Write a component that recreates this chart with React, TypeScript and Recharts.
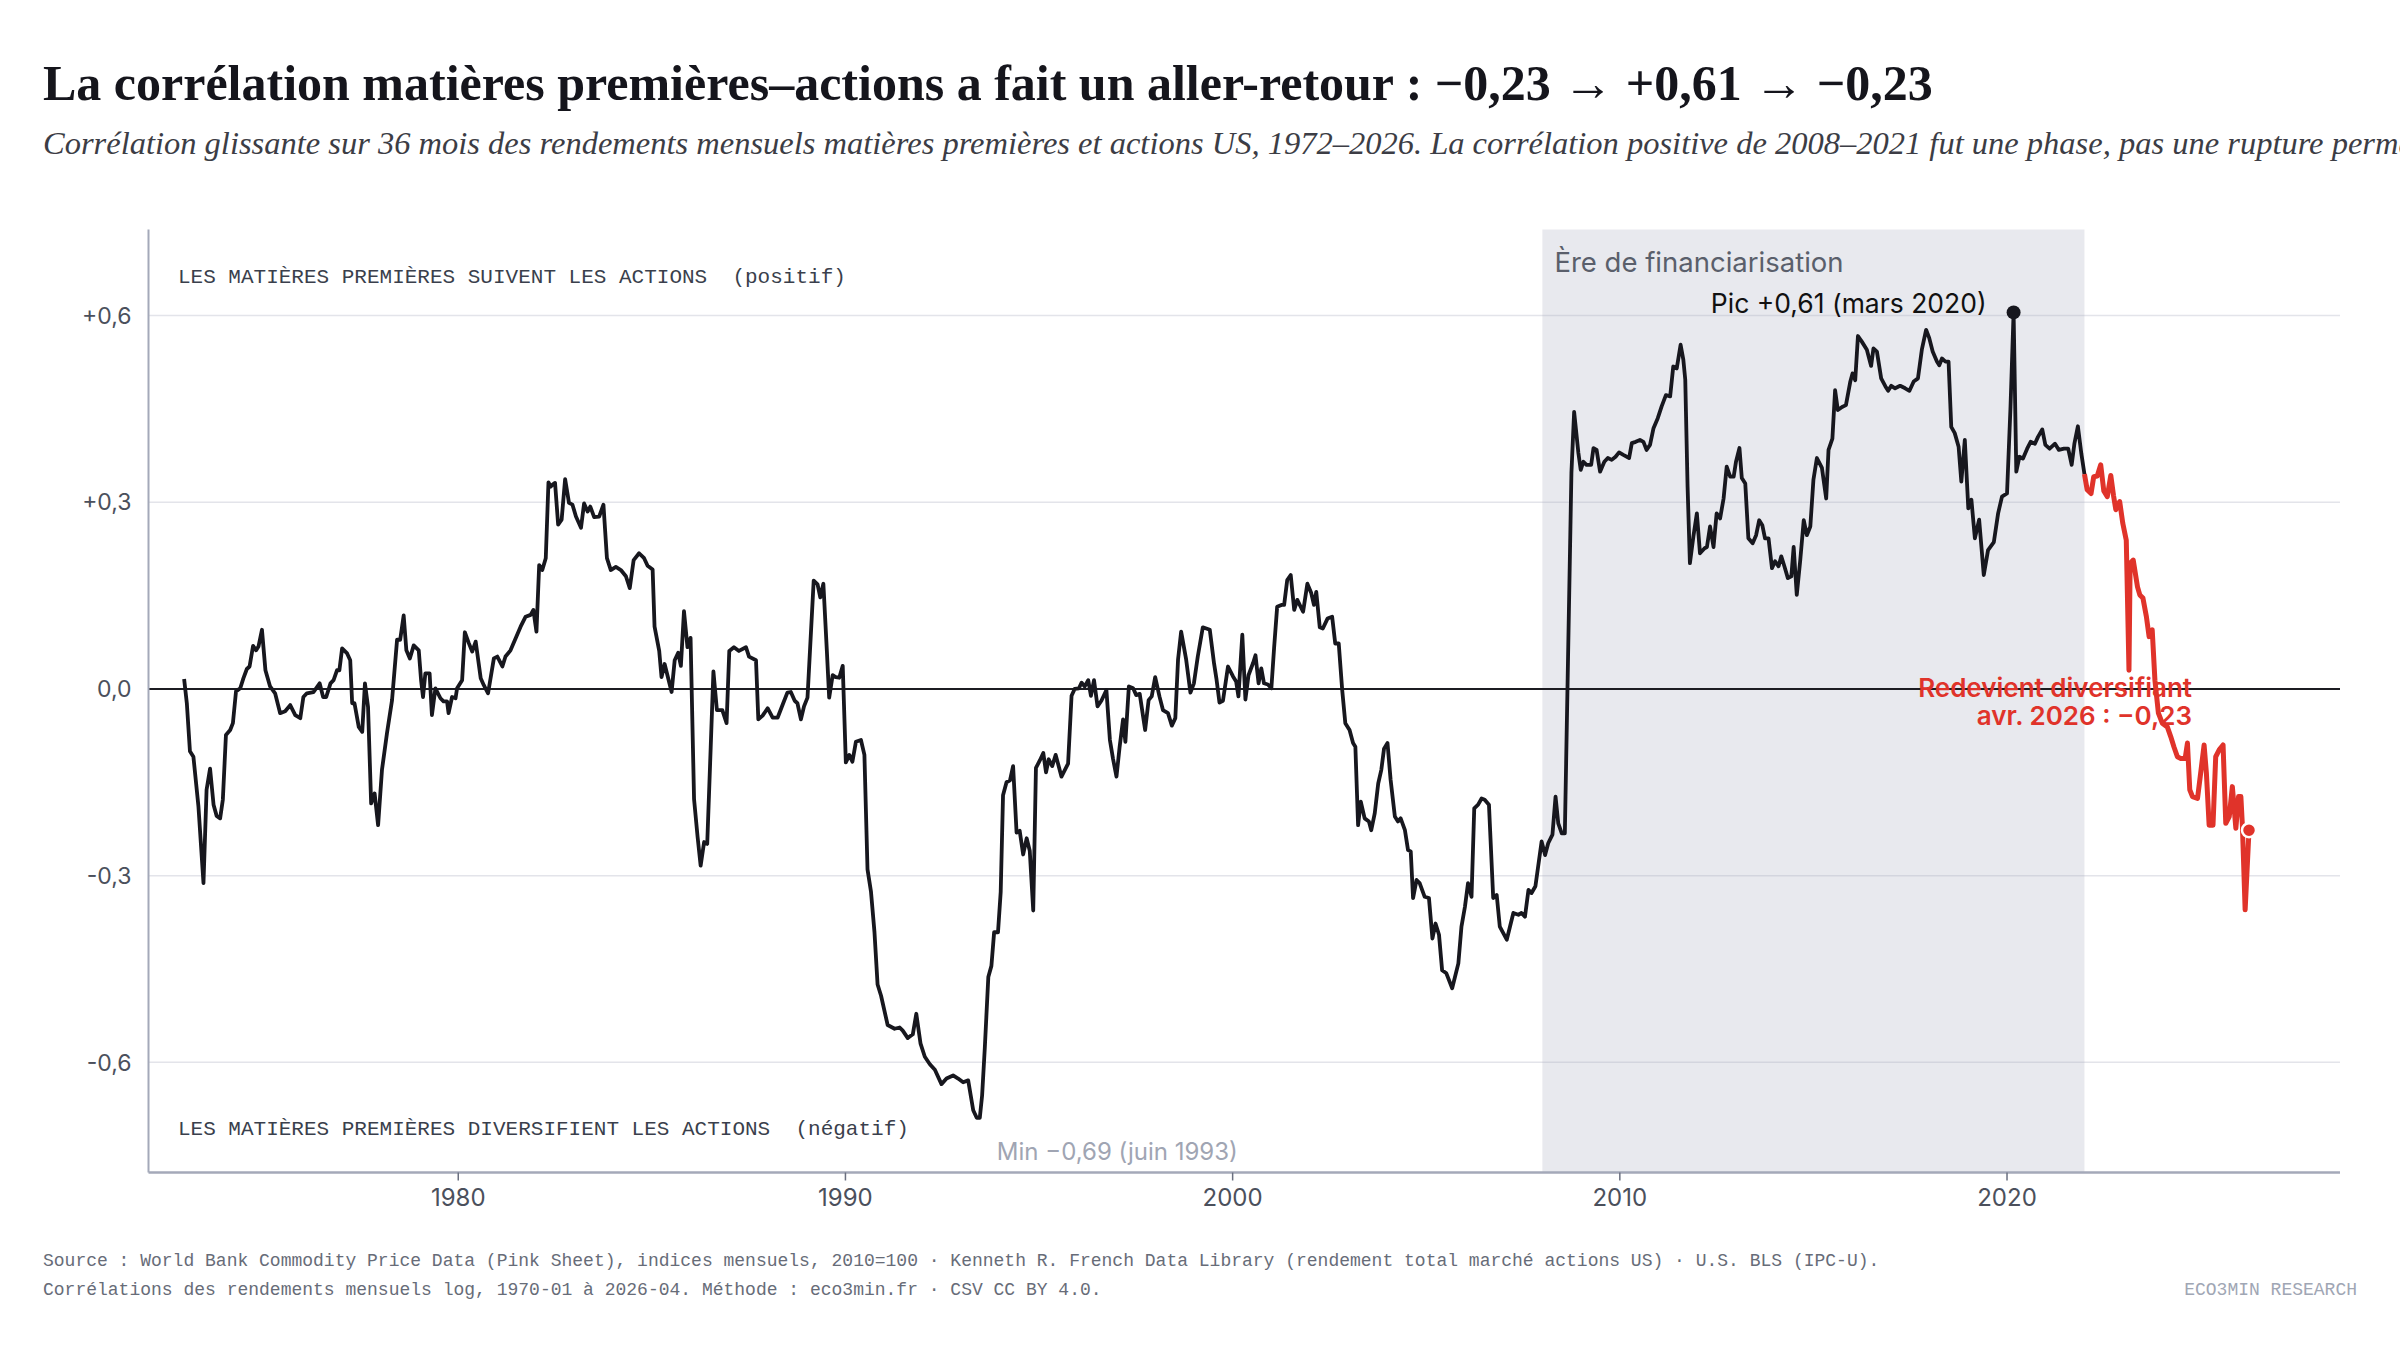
import React from 'react';
import {
  LineChart,
  Line,
  XAxis,
  YAxis,
  CartesianGrid,
  ReferenceArea,
  ReferenceLine,
  ReferenceDot,
} from 'recharts';

// [année décimale, corrélation glissante 36 mois]
const corr1970s: [number, number][] = [
  [1972.92, 0.016], [1972.99, -0.023], [1973.07, -0.1], [1973.16, -0.109], [1973.29, -0.189],
  [1973.42, -0.312], [1973.5, -0.162], [1973.59, -0.128], [1973.68, -0.186], [1973.76, -0.204],
  [1973.85, -0.208], [1973.92, -0.178], [1974.0, -0.074], [1974.11, -0.066], [1974.18, -0.055],
  [1974.26, -0.004], [1974.37, 0.001], [1974.45, 0.017], [1974.54, 0.032], [1974.61, 0.036],
  [1974.7, 0.069], [1974.78, 0.062], [1974.84, 0.068], [1974.93, 0.095], [1975.02, 0.03],
  [1975.14, 0.004], [1975.27, -0.007], [1975.4, -0.039], [1975.53, -0.036], [1975.66, -0.026],
  [1975.79, -0.042], [1975.92, -0.047], [1976.0, -0.013], [1976.09, -0.007], [1976.26, -0.005],
  [1976.42, 0.009], [1976.51, -0.013], [1976.59, -0.013], [1976.7, 0.009], [1976.78, 0.014],
  [1976.87, 0.03], [1976.93, 0.03], [1977.0, 0.065], [1977.13, 0.057], [1977.21, 0.046],
  [1977.26, -0.023], [1977.32, -0.023], [1977.43, -0.061], [1977.52, -0.069], [1977.59, 0.009],
  [1977.67, -0.029], [1977.75, -0.184], [1977.84, -0.168], [1977.93, -0.219], [1978.03, -0.13],
  [1978.16, -0.071], [1978.29, -0.018], [1978.42, 0.079], [1978.5, 0.079], [1978.59, 0.118],
  [1978.66, 0.062], [1978.75, 0.049], [1978.85, 0.07], [1978.98, 0.062], [1979.04, 0.014],
  [1979.09, -0.013], [1979.15, 0.025], [1979.26, 0.025], [1979.32, -0.042], [1979.41, 0.001],
  [1979.54, -0.015], [1979.62, -0.02], [1979.71, -0.02], [1979.75, -0.039], [1979.84, -0.013],
  [1979.93, -0.015], [1979.97, 0.001],
];

const corr1980s: [number, number][] = [
  [1980.1, 0.014], [1980.17, 0.091], [1980.27, 0.074], [1980.36, 0.06], [1980.45, 0.076],
  [1980.58, 0.017], [1980.66, 0.006], [1980.77, -0.007], [1980.92, 0.049], [1981.01, 0.052],
  [1981.14, 0.036], [1981.22, 0.052], [1981.35, 0.062], [1981.48, 0.081], [1981.61, 0.1],
  [1981.74, 0.116], [1981.87, 0.119], [1981.94, 0.127], [1982.02, 0.092], [1982.09, 0.199],
  [1982.17, 0.191], [1982.26, 0.21], [1982.33, 0.332], [1982.39, 0.325], [1982.43, 0.328],
  [1982.5, 0.331], [1982.58, 0.264], [1982.67, 0.272], [1982.76, 0.337], [1982.86, 0.299],
  [1982.95, 0.296], [1983.04, 0.277], [1983.17, 0.259], [1983.25, 0.298], [1983.34, 0.285],
  [1983.41, 0.293], [1983.51, 0.276], [1983.64, 0.277], [1983.75, 0.296], [1983.84, 0.21],
  [1983.94, 0.191], [1984.07, 0.196], [1984.2, 0.191], [1984.33, 0.181], [1984.43, 0.162],
  [1984.53, 0.207], [1984.67, 0.218], [1984.8, 0.21], [1984.89, 0.198], [1985.02, 0.192],
  [1985.07, 0.1], [1985.19, 0.061], [1985.25, 0.019], [1985.33, 0.04], [1985.51, -0.005],
  [1985.59, 0.046], [1985.68, 0.058], [1985.75, 0.037], [1985.83, 0.125], [1985.92, 0.067],
  [1986.0, 0.082], [1986.09, -0.177], [1986.18, -0.237], [1986.26, -0.284], [1986.35, -0.246],
  [1986.43, -0.249], [1986.52, -0.094], [1986.59, 0.028], [1986.68, -0.034], [1986.82, -0.034],
  [1986.93, -0.055], [1987.0, 0.061], [1987.12, 0.067], [1987.25, 0.061], [1987.43, 0.067],
  [1987.51, 0.052], [1987.69, 0.046], [1987.75, -0.049], [1987.86, -0.043], [1987.99, -0.031],
  [1988.12, -0.046], [1988.25, -0.046], [1988.38, -0.025], [1988.5, -0.006], [1988.59, -0.005],
  [1988.69, -0.019], [1988.76, -0.023], [1988.85, -0.049], [1988.93, -0.028], [1989.02, -0.014],
  [1989.18, 0.174], [1989.28, 0.168], [1989.35, 0.147], [1989.43, 0.169], [1989.52, 0.061],
  [1989.58, -0.014], [1989.67, 0.022], [1989.75, 0.019], [1989.84, 0.018], [1989.93, 0.037],
];

const corr1990s: [number, number][] = [
  [1990.01, -0.118], [1990.1, -0.106], [1990.18, -0.117], [1990.27, -0.085], [1990.4, -0.082],
  [1990.49, -0.106], [1990.57, -0.29], [1990.66, -0.326], [1990.75, -0.391], [1990.83, -0.475],
  [1990.92, -0.493], [1991.09, -0.54], [1991.27, -0.546], [1991.4, -0.544], [1991.48, -0.549],
  [1991.61, -0.561], [1991.74, -0.555], [1991.83, -0.522], [1991.94, -0.57], [1992.05, -0.591],
  [1992.18, -0.603], [1992.31, -0.612], [1992.48, -0.635], [1992.61, -0.626], [1992.78, -0.621],
  [1992.91, -0.626], [1993.04, -0.632], [1993.17, -0.629], [1993.3, -0.677], [1993.39, -0.689],
  [1993.47, -0.689], [1993.53, -0.653], [1993.6, -0.576], [1993.69, -0.463], [1993.77, -0.445],
  [1993.84, -0.391], [1993.94, -0.391], [1994.01, -0.326], [1994.07, -0.171], [1994.16, -0.15],
  [1994.25, -0.147], [1994.33, -0.124], [1994.42, -0.231], [1994.5, -0.228], [1994.59, -0.266],
  [1994.68, -0.24], [1994.76, -0.26], [1994.85, -0.356], [1994.92, -0.127], [1995.02, -0.115],
  [1995.11, -0.103], [1995.18, -0.134], [1995.25, -0.113], [1995.34, -0.124], [1995.43, -0.106],
  [1995.58, -0.141], [1995.75, -0.12], [1995.84, -0.011], [1995.92, 0.0], [1996.03, 0.001],
  [1996.1, 0.01], [1996.18, 0.004], [1996.27, 0.014], [1996.34, -0.011], [1996.42, 0.014],
  [1996.51, -0.028], [1996.61, -0.019], [1996.74, -0.002], [1996.83, -0.082], [1996.91, -0.112],
  [1997.0, -0.141], [1997.08, -0.094], [1997.17, -0.049], [1997.23, -0.085], [1997.32, 0.004],
  [1997.43, 0.001], [1997.51, -0.01], [1997.6, -0.008], [1997.74, -0.066], [1997.83, -0.018],
  [1997.91, -0.012], [1998.0, 0.019], [1998.11, -0.012], [1998.2, -0.034], [1998.33, -0.039],
  [1998.43, -0.059], [1998.52, -0.047], [1998.59, 0.047], [1998.67, 0.092], [1998.8, 0.047],
  [1998.91, -0.006], [1999.0, 0.009], [1999.1, 0.052], [1999.23, 0.099], [1999.41, 0.095],
  [1999.52, 0.041], [1999.58, 0.017], [1999.66, -0.022], [1999.75, -0.019], [1999.88, 0.036],
];

const corr2000s: [number, number][] = [
  [2000.01, 0.02], [2000.09, 0.012], [2000.15, -0.012], [2000.25, 0.087], [2000.33, -0.017],
  [2000.41, 0.022], [2000.53, 0.042], [2000.59, 0.054], [2000.67, 0.009], [2000.74, 0.033],
  [2000.81, 0.009], [2000.91, 0.007], [2001.0, 0.001], [2001.07, 0.065], [2001.15, 0.132],
  [2001.26, 0.135], [2001.33, 0.135], [2001.41, 0.175], [2001.5, 0.183], [2001.59, 0.127],
  [2001.67, 0.143], [2001.82, 0.124], [2001.93, 0.169], [2002.03, 0.154], [2002.1, 0.135],
  [2002.16, 0.156], [2002.25, 0.099], [2002.33, 0.097], [2002.45, 0.113], [2002.57, 0.116],
  [2002.65, 0.073], [2002.74, 0.073], [2002.83, -0.002], [2002.91, -0.055], [2003.02, -0.066],
  [2003.11, -0.087], [2003.17, -0.093], [2003.24, -0.219], [2003.31, -0.181], [2003.41, -0.208],
  [2003.52, -0.213], [2003.58, -0.227], [2003.67, -0.2], [2003.76, -0.152], [2003.84, -0.13],
  [2003.91, -0.096], [2004.0, -0.087], [2004.08, -0.146], [2004.19, -0.205], [2004.27, -0.213],
  [2004.34, -0.208], [2004.45, -0.227], [2004.53, -0.259], [2004.6, -0.261], [2004.66, -0.336],
  [2004.75, -0.307], [2004.83, -0.312], [2004.96, -0.334], [2005.07, -0.336], [2005.16, -0.401],
  [2005.24, -0.377], [2005.33, -0.395], [2005.41, -0.452], [2005.52, -0.457], [2005.67, -0.481],
  [2005.83, -0.441], [2005.91, -0.382], [2006.0, -0.35], [2006.08, -0.312], [2006.17, -0.334],
  [2006.24, -0.192], [2006.34, -0.186], [2006.43, -0.176], [2006.51, -0.178], [2006.62, -0.186],
  [2006.73, -0.336], [2006.82, -0.331], [2006.9, -0.382], [2007.08, -0.403], [2007.25, -0.36],
  [2007.38, -0.363], [2007.46, -0.36], [2007.55, -0.366], [2007.64, -0.323], [2007.72, -0.328],
  [2007.82, -0.317], [2007.98, -0.245], [2008.07, -0.267], [2008.15, -0.248], [2008.26, -0.234],
  [2008.34, -0.173], [2008.41, -0.216], [2008.5, -0.232], [2008.58, -0.232],
];

const corrFinanciarisation: [number, number][] = [
  [2008.75, 0.347], [2008.82, 0.445], [2008.93, 0.379], [2008.99, 0.352], [2009.06, 0.365],
  [2009.14, 0.36], [2009.26, 0.36], [2009.32, 0.387], [2009.4, 0.384], [2009.49, 0.349],
  [2009.6, 0.365], [2009.69, 0.371], [2009.79, 0.368], [2009.89, 0.373], [2009.98, 0.38],
  [2010.09, 0.376], [2010.24, 0.371], [2010.31, 0.395], [2010.41, 0.397], [2010.52, 0.4],
  [2010.61, 0.397], [2010.69, 0.384], [2010.78, 0.392], [2010.87, 0.419], [2010.98, 0.435],
  [2011.08, 0.454], [2011.19, 0.472], [2011.3, 0.47], [2011.38, 0.518], [2011.47, 0.515],
  [2011.57, 0.553], [2011.64, 0.529], [2011.69, 0.497], [2011.75, 0.325], [2011.81, 0.202],
  [2011.9, 0.245], [2011.99, 0.282], [2012.07, 0.218], [2012.19, 0.226], [2012.25, 0.228],
  [2012.33, 0.261], [2012.42, 0.228], [2012.5, 0.282], [2012.59, 0.274], [2012.68, 0.306],
  [2012.76, 0.357], [2012.85, 0.341], [2012.94, 0.341], [2013.0, 0.365], [2013.09, 0.387],
  [2013.15, 0.339], [2013.24, 0.33], [2013.32, 0.242], [2013.43, 0.234], [2013.52, 0.247],
  [2013.6, 0.271], [2013.68, 0.263], [2013.75, 0.242], [2013.84, 0.242], [2013.93, 0.194],
  [2014.01, 0.205], [2014.1, 0.197], [2014.17, 0.213], [2014.25, 0.197], [2014.34, 0.178],
  [2014.43, 0.181], [2014.49, 0.228], [2014.57, 0.151], [2014.66, 0.207], [2014.75, 0.271],
  [2014.83, 0.247], [2014.92, 0.261], [2015.0, 0.336], [2015.09, 0.371], [2015.22, 0.355],
  [2015.33, 0.306], [2015.39, 0.384], [2015.49, 0.402], [2015.56, 0.48], [2015.63, 0.448],
  [2015.74, 0.453], [2015.84, 0.456], [2015.95, 0.493], [2016.01, 0.507], [2016.08, 0.496],
  [2016.15, 0.567], [2016.25, 0.558], [2016.38, 0.545], [2016.49, 0.519], [2016.55, 0.547],
  [2016.64, 0.542], [2016.75, 0.499], [2016.86, 0.486], [2016.93, 0.479], [2017.01, 0.487],
  [2017.11, 0.483], [2017.24, 0.487], [2017.37, 0.483], [2017.48, 0.479], [2017.59, 0.494],
  [2017.7, 0.499], [2017.8, 0.545], [2017.91, 0.577], [2017.99, 0.564], [2018.08, 0.542],
  [2018.19, 0.526], [2018.25, 0.52], [2018.32, 0.531], [2018.41, 0.526], [2018.49, 0.526],
  [2018.56, 0.421], [2018.65, 0.411], [2018.75, 0.389], [2018.82, 0.333], [2018.91, 0.4],
  [2019.0, 0.29], [2019.08, 0.304], [2019.17, 0.242], [2019.28, 0.272], [2019.4, 0.183],
  [2019.51, 0.223], [2019.66, 0.236], [2019.77, 0.282], [2019.87, 0.309], [2020.0, 0.314],
  [2020.09, 0.453], [2020.17, 0.605], [2020.24, 0.349], [2020.32, 0.373], [2020.41, 0.37],
  [2020.52, 0.386], [2020.61, 0.397], [2020.72, 0.394], [2020.8, 0.405], [2020.91, 0.417],
  [2020.99, 0.392], [2021.1, 0.386], [2021.24, 0.394], [2021.34, 0.384], [2021.47, 0.386],
  [2021.58, 0.386], [2021.67, 0.36], [2021.74, 0.394], [2021.83, 0.422], [2021.92, 0.378],
  [2022.0, 0.345],
];

// après 2022 : retour en territoire diversifiant
const corrRecent: [number, number][] = [
  [2022.0, 0.345], [2022.07, 0.32], [2022.17, 0.314], [2022.24, 0.341], [2022.33, 0.342],
  [2022.42, 0.36], [2022.5, 0.318], [2022.59, 0.309], [2022.68, 0.343], [2022.75, 0.311],
  [2022.81, 0.288], [2022.91, 0.301], [2022.99, 0.266], [2023.08, 0.239], [2023.15, 0.03],
  [2023.18, 0.202], [2023.26, 0.207], [2023.37, 0.164], [2023.43, 0.151], [2023.51, 0.146],
  [2023.6, 0.116], [2023.67, 0.084], [2023.75, 0.095], [2023.82, 0.014], [2023.91, -0.039],
  [2024.01, -0.055], [2024.14, -0.061], [2024.23, -0.077], [2024.31, -0.093], [2024.4, -0.109],
  [2024.49, -0.112], [2024.6, -0.112], [2024.66, -0.087], [2024.72, -0.162], [2024.79, -0.173],
  [2024.92, -0.176], [2024.99, -0.141], [2025.09, -0.09], [2025.15, -0.136], [2025.22, -0.219],
  [2025.32, -0.219], [2025.39, -0.109], [2025.48, -0.098], [2025.58, -0.09], [2025.65, -0.216],
  [2025.74, -0.205], [2025.82, -0.157], [2025.91, -0.224], [2025.98, -0.173], [2026.04, -0.173],
  [2026.08, -0.221], [2026.15, -0.355], [2026.25, -0.227],
];

const xTicks = [1980, 1990, 2000, 2010, 2020];
const yTicks = [-0.6, -0.3, 0, 0.3, 0.6];
const financiarisation = { from: 2008, to: 2022 };
const peak = { t: 2020.17, v: 0.605 };
const trough = { t: 1993.42, v: -0.689 };
const latest = { t: 2026.25, v: -0.227 };

const toRows = (pairs: [number, number][]) => pairs.map(([t, v]) => ({ t, v }));
const blackRows = toRows([...corr1970s, ...corr1980s, ...corr1990s, ...corr2000s, ...corrFinanciarisation]);
const redRows = toRows(corrRecent);

const INK = '#17171e';
const RED = '#e0332a';
const MONO = '"Liberation Mono", monospace';
const fmtY = (v: number) => (v > 0 ? '+' : '') + v.toFixed(1).replace('.', ',');

const center = (vb: any) => ({ cx: vb.x + vb.width / 2, cy: vb.y + vb.height / 2 });

const pre: React.CSSProperties = { whiteSpace: 'pre' };

export default function App() {
  return (
    <div style={{ position: 'absolute', left: 0, top: 0, width: 2400, height: 1349, background: '#fff', overflow: 'hidden' }}>
      <div style={{ position: 'absolute', left: 43, top: 58, fontFamily: '"Liberation Serif", serif', fontWeight: 700, fontSize: 50, lineHeight: '50px', color: '#15151c', whiteSpace: 'nowrap' }}>
        La corrélation matières premières–actions a fait un aller-retour : −0,23 → +0,61 → −0,23
      </div>
      <div style={{ position: 'absolute', left: 43, top: 127, fontFamily: '"Liberation Serif", serif', fontStyle: 'italic', fontSize: 32.5, lineHeight: '32px', color: '#3c3d45', whiteSpace: 'nowrap' }}>
        Corrélation glissante sur 36 mois des rendements mensuels matières premières et actions US, 1972–2026. La corrélation positive de 2008–2021 fut une phase, pas une rupture permanente.
      </div>

      <div style={{ position: 'absolute', left: 0, top: 0 }}>
        <LineChart width={2400} height={1349} margin={{ top: 229.6, right: 60, bottom: 116.5, left: 48.5 }}>
          <ReferenceArea
            x1={financiarisation.from}
            x2={financiarisation.to}
            fill="#a9aec0"
            fillOpacity={0.27}
            stroke="none"
            label={(p: any) => (
              <text x={p.viewBox.x + 12} y={p.viewBox.y + 42} fontFamily="Inter" fontSize={27.5} fill="#5a5f6b">
                Ère de financiarisation
              </text>
            )}
          />
          <CartesianGrid vertical={false} horizontalValues={yTicks} stroke="#e3e4ea" strokeWidth={1.5} />
          <XAxis
            type="number"
            dataKey="t"
            domain={[1972, 2028.6]}
            ticks={xTicks}
            allowDataOverflow
            height={60}
            axisLine={{ stroke: '#a4a9b9', strokeWidth: 2.5 }}
            tickLine={{ stroke: '#6b7080', strokeWidth: 1.5 }}
            tickSize={8}
            tickMargin={8}
            tick={{ fontFamily: 'Inter', fontSize: 24, fill: '#4b505c' }}
          />
          <YAxis
            type="number"
            domain={[-0.777, 0.738]}
            ticks={yTicks}
            allowDataOverflow
            width={100}
            axisLine={{ stroke: '#a4a9b9', strokeWidth: 2 }}
            tickLine={false}
            tickSize={0}
            tickMargin={17}
            tickFormatter={fmtY}
            tick={{ fontFamily: 'Inter', fontSize: 23, fill: '#4b505c' }}
          />
          <ReferenceLine y={0} stroke="#1c1c22" strokeWidth={2} />
          <Line data={blackRows} dataKey="v" type="linear" stroke={INK} strokeWidth={3.8} dot={false} isAnimationActive={false} strokeLinejoin="round" />
          <Line data={redRows} dataKey="v" type="linear" stroke={RED} strokeWidth={5} dot={false} isAnimationActive={false} strokeLinejoin="round" />

          <ReferenceDot
            x={1972.76}
            y={0.652}
            r={0}
            label={(p: any) => (
              <text x={center(p.viewBox).cx} y={center(p.viewBox).cy} fontFamily={MONO} fontSize={21} fill="#3a3f4c" style={pre}>
                LES MATIÈRES PREMIÈRES SUIVENT LES ACTIONS  (positif)
              </text>
            )}
          />
          <ReferenceDot
            x={1972.76}
            y={-0.717}
            r={0}
            label={(p: any) => (
              <text x={center(p.viewBox).cx} y={center(p.viewBox).cy} fontFamily={MONO} fontSize={21} fill="#3a3f4c" style={pre}>
                LES MATIÈRES PREMIÈRES DIVERSIFIENT LES ACTIONS  (négatif)
              </text>
            )}
          />
          <ReferenceDot
            x={trough.t}
            y={trough.v}
            r={0}
            label={(p: any) => (
              <text x={center(p.viewBox).cx + 19} y={center(p.viewBox).cy + 42} fontFamily="Inter" fontSize={24} fill="#a0a5b3">
                Min −0,69 (juin 1993)
              </text>
            )}
          />
          <ReferenceDot
            x={peak.t}
            y={peak.v}
            r={7}
            fill={INK}
            stroke="none"
            label={(p: any) => (
              <text x={center(p.viewBox).cx - 27} y={center(p.viewBox).cy + 1} textAnchor="end" fontFamily="Inter" fontSize={26.5} fill="#111">
                Pic +0,61 (mars 2020)
              </text>
            )}
          />
          <ReferenceDot
            x={latest.t}
            y={latest.v}
            r={7}
            fill={RED}
            stroke="#fff"
            strokeWidth={2.5}
            label={(p: any) => {
              const { cx, cy } = center(p.viewBox);
              return (
                <g fontFamily="Inter" fontSize={26} fontWeight={600} fill={RED} textAnchor="end" style={pre}>
                  <text x={cx - 57} y={cy - 133}>Redevient diversifiant</text>
                  <text x={cx - 57} y={cy - 105}>avr. 2026 :  −0,23</text>
                </g>
              );
            }}
          />
        </LineChart>
      </div>

      <div style={{ position: 'absolute', left: 43, top: 1252, fontFamily: MONO, fontSize: 18, lineHeight: '18px', color: '#676c78', whiteSpace: 'pre' }}>
        Source : World Bank Commodity Price Data (Pink Sheet), indices mensuels, 2010=100 · Kenneth R. French Data Library (rendement total marché actions US) · U.S. BLS (IPC-U).
      </div>
      <div style={{ position: 'absolute', left: 43, top: 1281, fontFamily: MONO, fontSize: 18, lineHeight: '18px', color: '#676c78', whiteSpace: 'pre' }}>
        Corrélations des rendements mensuels log, 1970-01 à 2026-04. Méthode : eco3min.fr · CSV CC BY 4.0.
      </div>
      <div style={{ position: 'absolute', right: 43, top: 1281, fontFamily: MONO, fontSize: 18, lineHeight: '18px', color: '#a0a6b4', whiteSpace: 'pre' }}>
        ECO3MIN RESEARCH
      </div>
    </div>
  );
}
